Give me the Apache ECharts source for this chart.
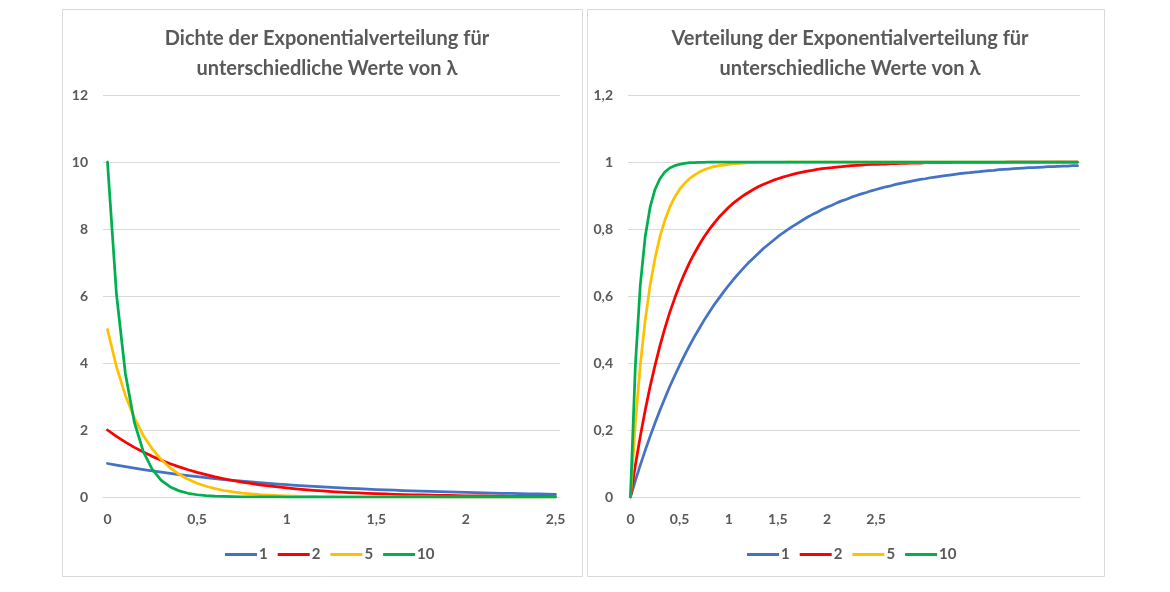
<!DOCTYPE html>
<html>
<head>
<meta charset="utf-8">
<script src="https://cdn.jsdelivr.net/npm/echarts@6/dist/echarts.min.js"></script>
<style>html,body{margin:0;padding:0;background:#fff}#c{width:1170px;height:592px}</style>
</head>
<body>
<div id="c"></div>
<script>
// x values (category labels) for both charts
const xValues = [0,0.05,0.1,0.15,0.2,0.25,0.3,0.35,0.4,0.45,0.5,0.55,0.6,0.65,0.7,0.75,0.8,0.85,0.9,0.95,1,1.05,1.1,1.15,1.2,1.25,1.3,1.35,1.4,1.45,1.5,1.55,1.6,1.65,1.7,1.75,1.8,1.85,1.9,1.95,2,2.05,2.1,2.15,2.2,2.25,2.3,2.35,2.4,2.45,2.5];
const seriesNames = ['1','2','5','10'];
const colors = ['#4472C4','#FF0000','#FFC000','#00B050'];

// Dichte (density) values
const dens1 = [1,0.951,0.905,0.861,0.819,0.779,0.741,0.705,0.670,0.638,0.607,0.577,0.549,0.522,0.497,0.472,0.449,0.427,0.407,0.387,0.368,0.350,0.333,0.317,0.301,0.287,0.273,0.259,0.247,0.235,0.223,0.212,0.202,0.192,0.183,0.174,0.165,0.157,0.150,0.142,0.135,0.129,0.122,0.116,0.111,0.105,0.100,0.095,0.091,0.086,0.082];
const dens2 = [2,1.810,1.637,1.482,1.341,1.213,1.098,0.993,0.899,0.813,0.736,0.666,0.602,0.545,0.493,0.446,0.404,0.365,0.331,0.299,0.271,0.245,0.222,0.201,0.181,0.164,0.149,0.134,0.122,0.110,0.100,0.090,0.082,0.074,0.067,0.060,0.055,0.049,0.045,0.040,0.037,0.033,0.030,0.027,0.025,0.022,0.020,0.018,0.016,0.015,0.013];
const dens5 = [5,3.894,3.033,2.362,1.839,1.433,1.116,0.869,0.677,0.527,0.410,0.320,0.249,0.194,0.151,0.118,0.092,0.071,0.056,0.043,0.034,0.026,0.020,0.016,0.012,0.010,0.007,0.006,0.005,0.004,0.003,0.002,0.002,0.001,0.001,0.001,0.001,0,0,0,0,0,0,0,0,0,0,0,0,0,0];
const dens10 = [10,6.065,3.679,2.231,1.353,0.821,0.498,0.302,0.183,0.111,0.067,0.041,0.025,0.015,0.009,0.006,0.003,0.002,0.001,0.001,0,0,0,0,0,0,0,0,0,0,0,0,0,0,0,0,0,0,0,0,0,0,0,0,0,0,0,0,0,0,0];

// Verteilung (CDF) values
const cdf1 = [0,0.049,0.095,0.139,0.181,0.221,0.259,0.295,0.330,0.362,0.393,0.423,0.451,0.478,0.503,0.528,0.551,0.573,0.593,0.613,0.632,0.650,0.667,0.683,0.699,0.713,0.727,0.741,0.753,0.765,0.777,0.788,0.798,0.808,0.817,0.826,0.835,0.843,0.850,0.858,0.865,0.871,0.878,0.884,0.889,0.895,0.900,0.905,0.909,0.914,0.918,
  0.922,0.926,0.929,0.933,0.936,0.939,0.942,0.945,0.948,0.950,0.953,0.955,0.957,0.959,0.961,0.963,0.965,0.967,0.968,0.970,0.971,0.973,0.974,0.975,0.977,0.978,0.979,0.980,0.981,0.982,0.983,0.983,0.984,0.985,0.986,0.986,0.987,0.988,0.988,0.989,0.989];
const cdf2 = [0,0.095,0.181,0.259,0.330,0.393,0.451,0.503,0.551,0.593,0.632,0.667,0.699,0.727,0.753,0.777,0.798,0.817,0.835,0.850,0.865,0.878,0.889,0.900,0.909,0.918,0.926,0.933,0.939,0.945,0.950,0.955,0.959,0.963,0.967,0.970,0.973,0.975,0.978,0.980,0.982,0.983,0.985,0.986,0.988,0.989,0.990,0.991,0.992,0.993,0.993,
  0.994,0.994,0.995,0.995,0.996,0.996,0.997,0.997,0.997,0.998,0.998,0.998,0.998,0.998,0.998,0.999,0.999,0.999,0.999,0.999,0.999,0.999,0.999,0.999,0.999,0.999,1,1,1,1,1,1,1,1,1,1,1,1,1,1,1];
const cdf5 = [0,0.221,0.393,0.528,0.632,0.713,0.777,0.826,0.865,0.895,0.918,0.936,0.950,0.961,0.970,0.977,0.982,0.986,0.989,0.991,0.993,0.995,0.996,0.997,0.998,0.998,0.999,0.999,0.999,0.999,0.999,0.999,
  1,1,1,1,1,1,1,1,1,1,1,1,1,1,1,1,1,1,1,1,1,1,1,1,1,1,1,1,1,1,1,1,1,1,1,1,1,1,1,1,1,1,1,1,1,1,1,1,1,1,1,1,1,1,1,1,1,1,1,1];
const cdf10 = [0,0.393,0.632,0.777,0.865,0.918,0.950,0.970,0.982,0.989,0.993,0.996,0.998,0.998,0.999,0.999,
  1,1,1,1,1,1,1,1,1,1,1,1,1,1,1,1,1,1,1,1,1,1,1,1,1,1,1,1,1,1,1,1,1,1,1,1,1,1,1,1,1,1,1,1,1,1,1,1,1,1,1,1,1,1,1,1,1,1,1,1,1,1,1,1,1,1,1,1,1,1,1,1,1,1,1,1];

const titleLeft = 'Dichte der Exponentialverteilung für\nunterschiedliche Werte von λ';
const titleRight = 'Verteilung der Exponentialverteilung für\nunterschiedliche Werte von λ';

const FONT = 'Lato, "Open Sans", sans-serif';
const TXT = '#595959';
const GRIDC = '#d9d9d9';

const rightCats = cdf1.map((_, i) => i < xValues.length ? xValues[i] : '');
const fmtNum = v => (v === '' ? '' : String(v).replace('.', ','));

const chart = echarts.init(document.getElementById('c'), null, {renderer: 'canvas'});

function xAxisCfg(gridIndex, data) {
  return {
    type: 'category', gridIndex, data, boundaryGap: true,
    axisLine: {show: true, lineStyle: {color: GRIDC, width: 1}},
    axisTick: {show: false},
    axisLabel: {interval: 9, color: TXT, fontFamily: FONT, fontSize: 14, fontWeight: 'bold', margin: 15,
      formatter: v => fmtNum(v)},
    splitLine: {show: false}
  };
}
function yAxisCfg(gridIndex, max, interval) {
  return {
    type: 'value', gridIndex, min: 0, max, interval,
    axisLine: {show: false}, axisTick: {show: false},
    axisLabel: {color: TXT, fontFamily: FONT, fontSize: 14, fontWeight: 'bold', margin: 15,
      formatter: v => String(+v.toFixed(1)).replace('.', ',')},
    splitLine: {lineStyle: {color: GRIDC, width: 1}}
  };
}
function lineSeries(name, data, idx, axisIdx) {
  return {
    name, type: 'line', data, xAxisIndex: axisIdx, yAxisIndex: axisIdx,
    symbol: 'none', smooth: false, animation: false,
    lineStyle: {color: colors[idx], width: 2.75, cap: 'round', join: 'round'},
    itemStyle: {color: colors[idx]}
  };
}
function legendCfg(left) {
  return {
    left, top: 542, data: seriesNames, icon: 'rect', itemWidth: 32, itemHeight: 3, itemGap: 10,
    selectedMode: false,
    textStyle: {color: TXT, fontFamily: FONT, fontSize: 15, fontWeight: 'bold', padding: [0, 0, 0, -3]}
  };
}

chart.setOption({
  backgroundColor: '#fff',
  animation: false,
  graphic: [
    {type: 'rect', shape: {x: 62.5, y: 9.5, width: 520, height: 567}, style: {fill: 'none', stroke: GRIDC, lineWidth: 1}, silent: true},
    {type: 'rect', shape: {x: 587.5, y: 9.5, width: 517, height: 567}, style: {fill: 'none', stroke: GRIDC, lineWidth: 1}, silent: true}
  ],
  title: [
    {text: titleLeft, left: 322, top: 19, textAlign: 'center',
      textStyle: {color: TXT, fontFamily: FONT, fontSize: 20, fontWeight: 'bold', lineHeight: 30}},
    {text: titleRight, left: 845, top: 19, textAlign: 'center',
      textStyle: {color: TXT, fontFamily: FONT, fontSize: 20, fontWeight: 'bold', lineHeight: 30}}
  ],
  legend: [legendCfg(220), legendCfg(742)],
  grid: [
    {left: 103, top: 95, width: 457, height: 402},
    {left: 628, top: 95, width: 452, height: 402}
  ],
  xAxis: [xAxisCfg(0, xValues), xAxisCfg(1, rightCats)],
  yAxis: [yAxisCfg(0, 12, 2), yAxisCfg(1, 1.2, 0.2)],
  series: [
    lineSeries('1', dens1, 0, 0), lineSeries('2', dens2, 1, 0), lineSeries('5', dens5, 2, 0), lineSeries('10', dens10, 3, 0),
    lineSeries('1', cdf1, 0, 1), lineSeries('2', cdf2, 1, 1), lineSeries('5', cdf5, 2, 1), lineSeries('10', cdf10, 3, 1)
  ]
});
</script>
</body>
</html>
